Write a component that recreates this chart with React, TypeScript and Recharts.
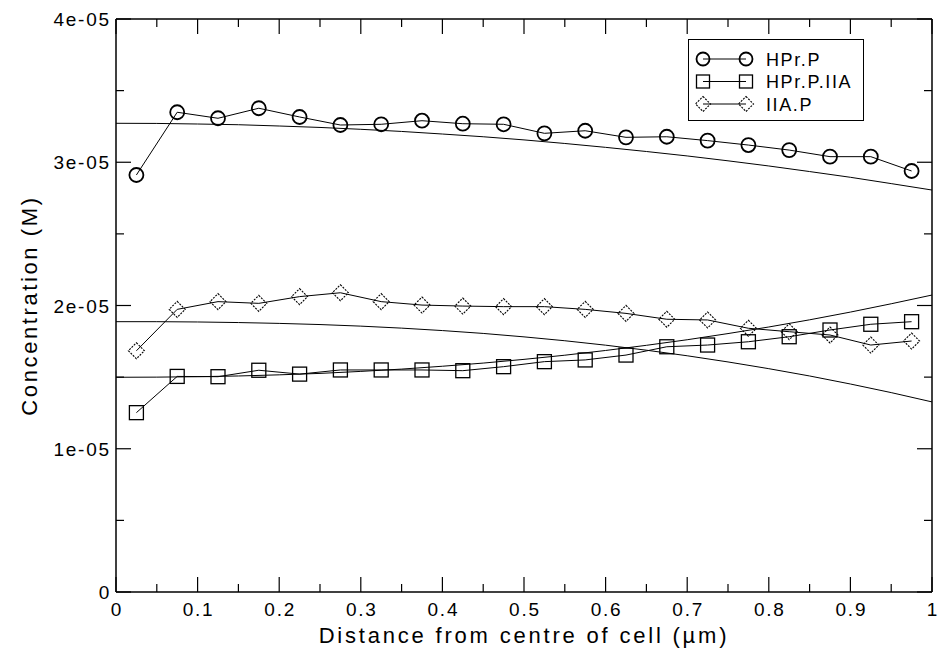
import React from 'react';
import { LineChart, Line, XAxis, YAxis, Legend, ReferenceLine } from 'recharts';

// Observed (marker) series
const obsX = [0.025, 0.075, 0.125, 0.175, 0.225, 0.275, 0.325, 0.375, 0.425, 0.475, 0.525, 0.575, 0.625, 0.675, 0.725, 0.775, 0.825, 0.875, 0.925, 0.975];
const hprP = [2.911e-5, 3.349e-5, 3.307e-5, 3.377e-5, 3.316e-5, 3.26e-5, 3.265e-5, 3.29e-5, 3.269e-5, 3.265e-5, 3.202e-5, 3.22e-5, 3.174e-5, 3.178e-5, 3.151e-5, 3.12e-5, 3.085e-5, 3.039e-5, 3.039e-5, 2.939e-5];
const hprPIIA = [1.252e-5, 1.505e-5, 1.503e-5, 1.548e-5, 1.521e-5, 1.55e-5, 1.55e-5, 1.55e-5, 1.545e-5, 1.573e-5, 1.608e-5, 1.62e-5, 1.654e-5, 1.712e-5, 1.724e-5, 1.747e-5, 1.782e-5, 1.829e-5, 1.869e-5, 1.887e-5];
const iiaP = [1.684e-5, 1.973e-5, 2.027e-5, 2.015e-5, 2.062e-5, 2.089e-5, 2.027e-5, 2.003e-5, 1.996e-5, 1.992e-5, 1.992e-5, 1.973e-5, 1.945e-5, 1.904e-5, 1.899e-5, 1.841e-5, 1.817e-5, 1.794e-5, 1.724e-5, 1.752e-5];

// Model (plain line) series
const modelX = [0, 0.05, 0.1, 0.15, 0.2, 0.25, 0.3, 0.35, 0.4, 0.45, 0.5, 0.55, 0.6, 0.65, 0.7, 0.75, 0.8, 0.85, 0.9, 0.95, 1];
const modelHPrP = [3.272e-5, 3.271e-5, 3.267e-5, 3.262e-5, 3.253e-5, 3.243e-5, 3.23e-5, 3.215e-5, 3.197e-5, 3.178e-5, 3.156e-5, 3.131e-5, 3.104e-5, 3.075e-5, 3.044e-5, 3.01e-5, 2.974e-5, 2.935e-5, 2.895e-5, 2.851e-5, 2.806e-5];
const modelHPrPIIA = [1.499e-5, 1.5e-5, 1.503e-5, 1.508e-5, 1.516e-5, 1.526e-5, 1.54e-5, 1.556e-5, 1.576e-5, 1.598e-5, 1.624e-5, 1.653e-5, 1.686e-5, 1.722e-5, 1.761e-5, 1.804e-5, 1.85e-5, 1.9e-5, 1.954e-5, 2.012e-5, 2.073e-5];
const modelIIAP = [1.887e-5, 1.887e-5, 1.885e-5, 1.881e-5, 1.875e-5, 1.867e-5, 1.856e-5, 1.842e-5, 1.825e-5, 1.805e-5, 1.781e-5, 1.754e-5, 1.723e-5, 1.688e-5, 1.649e-5, 1.606e-5, 1.559e-5, 1.508e-5, 1.452e-5, 1.392e-5, 1.327e-5];

const seriesNames = ['HPr.P', 'HPr.P.IIA', 'IIA.P'];

// Ticks
const xMajorTicks = [0, 0.1, 0.2, 0.3, 0.4, 0.5, 0.6, 0.7, 0.8, 0.9, 1];
const xTickLabels = ['0', '0.1', '0.2', '0.3', '0.4', '0.5', '0.6', '0.7', '0.8', '0.9', '1'];
const xMinorTicks = [0.05, 0.15, 0.25, 0.35, 0.45, 0.55, 0.65, 0.75, 0.85, 0.95];
const yMajorTicks = [0, 1e-5, 2e-5, 3e-5, 4e-5];
const yTickLabels = ['0', '1e-05', '2e-05', '3e-05', '4e-05'];
const yMinorTicks = [0.5e-5, 1.5e-5, 2.5e-5, 3.5e-5];

const X_DOMAIN: [number, number] = [0, 1];
const Y_DOMAIN: [number, number] = [0, 4e-5];

const toRows = (xs: number[], ys: number[]) => xs.map((x, i) => ({ x, y: ys[i] }));
const obsHPrP = toRows(obsX, hprP);
const obsHPrPIIA = toRows(obsX, hprPIIA);
const obsIIAP = toRows(obsX, iiaP);
const modHPrP = toRows(modelX, modelHPrP);
const modHPrPIIA = toRows(modelX, modelHPrPIIA);
const modIIAP = toRows(modelX, modelIIAP);

const FONT = '"Liberation Sans", Arial, Helvetica, sans-serif';
const TINY = 0.01;
const W = 940;
const H = 650;
const M = { top: 19, right: 8, bottom: 58, left: 116 };
const PLOT = { left: M.left, top: M.top, right: W - M.right, bottom: H - M.bottom };
const PLOT_W = PLOT.right - PLOT.left;
const PLOT_H = PLOT.bottom - PLOT.top;
const MAJOR_LEN = 15;
const MINOR_LEN = 8;
// tick lengths expressed in data units (pixel length -> domain units)
const xLen = (px: number) => (px * (X_DOMAIN[1] - X_DOMAIN[0])) / PLOT_W;
const yLen = (px: number) => (px * (Y_DOMAIN[1] - Y_DOMAIN[0])) / PLOT_H;

const circleShape = (cx: number, cy: number, r: number, key?: any) => (
  <circle key={key} cx={cx} cy={cy} r={r} fill="none" stroke="#000" strokeWidth={1.8} />
);
const squareShape = (cx: number, cy: number, h: number, key?: any) => (
  <rect key={key} x={cx - h} y={cy - h} width={2 * h} height={2 * h} fill="none" stroke="#000" strokeWidth={1.3} />
);
const diamondShape = (cx: number, cy: number, h: number, key?: any) => (
  <polygon
    key={key}
    points={`${cx},${cy - h} ${cx + h},${cy} ${cx},${cy + h} ${cx - h},${cy}`}
    fill="none"
    stroke="#000"
    strokeWidth={1.1}
    strokeDasharray="2 1.2"
  />
);

const CircleDot = (p: any) => (p.cx == null ? <g key={p.index} /> : circleShape(p.cx, p.cy, 7, p.index));
const SquareDot = (p: any) => (p.cx == null ? <g key={p.index} /> : squareShape(p.cx, p.cy, 7, p.index));
const DiamondDot = (p: any) => (p.cx == null ? <g key={p.index} /> : diamondShape(p.cx, p.cy, 8, p.index));

const findIdx = (arr: number[], v: number) => arr.findIndex((t) => Math.abs(t - v) < 1e-12);

const XTickLabel = (p: any) => {
  const mi = findIdx(xMajorTicks, p.payload?.value);
  if (mi < 0) return <g />;
  return (
    <text x={p.x + 1} y={PLOT.bottom + 24} textAnchor="middle" fontSize={19} fontFamily={FONT} fill="#000" style={{ letterSpacing: '1.8px' }}>
      {xTickLabels[mi]}
    </text>
  );
};

const YTickLabel = (p: any) => {
  const mi = findIdx(yMajorTicks, p.payload?.value);
  if (mi < 0) return <g />;
  return (
    <text x={PLOT.left - 5} y={p.y + 7} textAnchor="end" fontSize={19} fontFamily={FONT} fill="#000" style={{ letterSpacing: '1.8px' }}>
      {yTickLabels[mi]}
    </text>
  );
};

const renderLegend = () => (
  <svg width={176} height={82} style={{ display: 'block' }}>
    <rect x={0.5} y={0.5} width={175} height={81} fill="#fff" stroke="#000" strokeWidth={1} />
    {seriesNames.map((name, i) => {
      const cy = 20 + i * 22.5;
      const m1 = 15;
      const m2 = 58;
      const shape = i === 0 ? circleShape : i === 1 ? squareShape : diamondShape;
      const size = i === 0 ? 6.5 : i === 1 ? 6.5 : 7.5;
      return (
        <g key={name}>
          <line x1={m1} y1={cy} x2={m2} y2={cy} stroke="#000" strokeWidth={1} />
          {shape(m1, cy, size, 'a')}
          {shape(m2, cy, size, 'b')}
          <text x={78} y={cy + 6.5} fontSize={18} fontFamily={FONT} fill="#000" style={{ letterSpacing: '1.6px' }}>
            {name}
          </text>
        </g>
      );
    })}
  </svg>
);

const YTitle = (props: any) => {
  const vb = props.viewBox || { x: 116, y: 19, height: 573 };
  const x = 37;
  const y = vb.y + vb.height / 2;
  return (
    <text
      x={x}
      y={y}
      transform={`rotate(-90 ${x} ${y})`}
      textAnchor="middle"
      fontSize={22}
      fontFamily={FONT}
      fill="#000"
      style={{ letterSpacing: '2.6px' }}
    >
      Concentration (M)
    </text>
  );
};

const axisLineStyle = { stroke: '#000', strokeWidth: 1.5 };

const tickSegments = () => {
  const out: any[] = [];
  const add = (key: string, seg: any) =>
    out.push(
      <ReferenceLine
        key={key}
        xAxisId="xb"
        yAxisId="yl"
        segment={seg}
        stroke="#000"
        strokeWidth={1.2}
        ifOverflow="visible"
      />
    );
  const xs = [...xMajorTicks.map((v) => [v, MAJOR_LEN]), ...xMinorTicks.map((v) => [v, MINOR_LEN])];
  xs.forEach(([v, len], i) => {
    add(`xb${i}`, [{ x: v, y: Y_DOMAIN[0] }, { x: v, y: Y_DOMAIN[0] + yLen(len) }]);
    add(`xt${i}`, [{ x: v, y: Y_DOMAIN[1] }, { x: v, y: Y_DOMAIN[1] - yLen(len) }]);
  });
  const ys = [...yMajorTicks.map((v) => [v, MAJOR_LEN]), ...yMinorTicks.map((v) => [v, MINOR_LEN])];
  ys.forEach(([v, len], i) => {
    add(`yl${i}`, [{ x: X_DOMAIN[0], y: v }, { x: X_DOMAIN[0] + xLen(len), y: v }]);
    add(`yr${i}`, [{ x: X_DOMAIN[1], y: v }, { x: X_DOMAIN[1] - xLen(len), y: v }]);
  });
  return out;
};

export default function App() {
  return (
    <div style={{ position: 'absolute', left: 0, top: 0, width: W, height: H, background: '#fff' }}>
      <LineChart
        width={W}
        height={H}
        margin={{ top: M.top - TINY, right: M.right - TINY, bottom: M.bottom - TINY, left: M.left - TINY }}
      >
        <XAxis
          xAxisId="xb"
          dataKey="x"
          type="number"
          orientation="bottom"
          domain={X_DOMAIN}
          allowDataOverflow
          ticks={xMajorTicks}
          interval={0}
          height={TINY}
          tickSize={0}
          tickMargin={0}
          tick={XTickLabel}
          tickLine={false}
          axisLine={axisLineStyle}
          label={{
            value: 'Distance from centre of cell (µm)',
            position: 'bottom',
            offset: 35,
            fontSize: 22,
            fontFamily: FONT,
            fill: '#000',
            style: { letterSpacing: '2.8px' },
          }}
        />
        <XAxis
          xAxisId="xt"
          dataKey="x"
          type="number"
          orientation="top"
          domain={X_DOMAIN}
          allowDataOverflow
          height={TINY}
          tick={false}
          tickLine={false}
          axisLine={axisLineStyle}
        />
        <YAxis
          yAxisId="yl"
          type="number"
          orientation="left"
          domain={Y_DOMAIN}
          allowDataOverflow
          ticks={yMajorTicks}
          interval={0}
          width={TINY}
          tickSize={0}
          tickMargin={0}
          tick={YTickLabel}
          tickLine={false}
          axisLine={axisLineStyle}
          label={YTitle}
        />
        <YAxis
          yAxisId="yr"
          type="number"
          orientation="right"
          domain={Y_DOMAIN}
          allowDataOverflow
          width={TINY}
          tick={false}
          tickLine={false}
          axisLine={axisLineStyle}
        />

        {tickSegments()}

        {/* model lines */}
        <Line xAxisId="xb" yAxisId="yl" data={modHPrP} dataKey="y" type="linear" stroke="#000" strokeWidth={1} dot={false} activeDot={false} isAnimationActive={false} legendType="none" />
        <Line xAxisId="xb" yAxisId="yl" data={modHPrPIIA} dataKey="y" type="linear" stroke="#000" strokeWidth={1} dot={false} activeDot={false} isAnimationActive={false} legendType="none" />
        <Line xAxisId="xb" yAxisId="yl" data={modIIAP} dataKey="y" type="linear" stroke="#000" strokeWidth={1} dot={false} activeDot={false} isAnimationActive={false} legendType="none" />

        {/* observed series with markers */}
        <Line xAxisId="xb" yAxisId="yl" name={seriesNames[0]} data={obsHPrP} dataKey="y" type="linear" stroke="#000" strokeWidth={1} dot={CircleDot} activeDot={false} isAnimationActive={false} />
        <Line xAxisId="xb" yAxisId="yl" name={seriesNames[1]} data={obsHPrPIIA} dataKey="y" type="linear" stroke="#000" strokeWidth={1} dot={SquareDot} activeDot={false} isAnimationActive={false} />
        <Line xAxisId="xb" yAxisId="yl" name={seriesNames[2]} data={obsIIAP} dataKey="y" type="linear" stroke="#000" strokeWidth={1} dot={DiamondDot} activeDot={false} isAnimationActive={false} />

        <Legend
          layout="vertical"
          align="center"
          verticalAlign="middle"
          content={renderLegend}
          wrapperStyle={{ position: 'absolute', left: 688, top: 39, width: 176, height: 82 }}
        />
      </LineChart>
    </div>
  );
}
